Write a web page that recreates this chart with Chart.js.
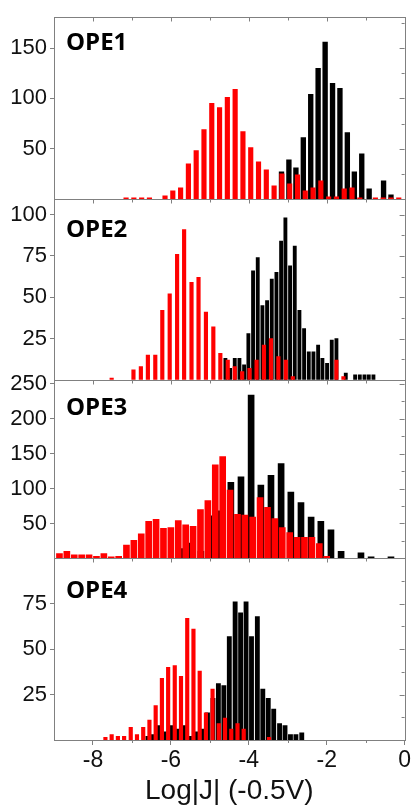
<!DOCTYPE html>
<html>
<head>
<meta charset="utf-8">
<script src="https://cdn.jsdelivr.net/npm/chart.js@4.4.1/dist/chart.umd.min.js"></script>
<style>
  html, body { margin: 0; padding: 0; background: #fff; }
</style>
</head>
<body>
<canvas id="hist" width="413" height="809"></canvas>
<script>
// bin centres (Log|J|) and counts, black and red populations per molecule
var ope1BlackX = [-3.16,-2.97,-2.79,-2.60,-2.41,-2.22,-2.04,-1.85,-1.66,-1.47,-1.29,-1.10,-0.91,-0.54,-0.35];
var ope1BlackY = [27,39,31,61,104,130,156,115,110,66,27,45,10,18,4];
var ope1RedX = [-7.15,-6.95,-6.75,-6.55,-6.15,-5.95,-5.75,-5.55,-5.35,-5.15,-4.95,-4.75,-4.55,-4.35,-4.15,-3.95,-3.75,-3.55,-3.35,-3.15,-2.95,-2.75,-2.55,-2.35,-2.15,-1.95,-1.75,-1.55,-1.35,-1.15,-0.75,-0.55,-0.35,-0.15];
var ope1RedY = [1,1,1,1,3,8,11,35,48,69,95,91,101,109,67,51,37,29,13,25,15,24,8,11,18,2,2,10,11,1,1,1,1,1];

var ope2BlackX = [-4.60,-4.48,-4.36,-4.24,-4.12,-4.01,-3.89,-3.77,-3.65,-3.53,-3.41,-3.29,-3.17,-3.06,-2.94,-2.82,-2.70,-2.58,-2.46,-2.34,-2.22,-2.11,-1.99,-1.87,-1.75,-1.51,-1.27,-1.15,-1.03,-0.92,-0.80];
var ope2BlackY = [13,7,13,13,9,28,66,74,45,48,61,65,84,98,69,81,42,31,17,17,21,13,10,24,25,4,3,3,3,3,3];
var ope2RedX = [-7.52,-6.96,-6.77,-6.59,-6.40,-6.22,-6.03,-5.84,-5.66,-5.47,-5.29,-5.10,-4.91,-4.73,-4.54,-4.36,-4.17,-3.98,-3.80,-3.61,-3.43,-3.24,-3.05,-2.87,-1.75,-1.57];
var ope2RedY = [1,6,8,15,15,42,52,76,91,59,62,41,32,16,12,8,5,7,12,21,25,14,12,2,12,2];

var ope3BlackX = [-5.74,-5.49,-5.23,-4.97,-4.72,-4.46,-4.20,-3.94,-3.69,-3.43,-3.17,-2.92,-2.66,-2.40,-2.15,-1.89,-1.63,-1.12,-0.86,-0.35];
var ope3BlackY = [14,22,10,61,68,109,117,234,105,119,136,95,80,59,53,41,10,8,2,2];
var ope3RedX = [-8.86,-8.67,-8.48,-8.29,-8.10,-7.91,-7.72,-7.53,-7.34,-7.14,-6.95,-6.76,-6.57,-6.38,-6.19,-6.00,-5.81,-5.62,-5.43,-5.24,-5.05,-4.86,-4.67,-4.48,-4.29,-4.10,-3.90,-3.71,-3.52,-3.33,-3.14,-2.95,-2.76,-2.57,-2.38,-2.19,-2.00];
var ope3RedY = [7,10,5,5,5,3,7,2,3,19,26,35,53,56,43,44,54,48,46,70,83,134,146,98,63,62,59,87,73,57,44,37,30,30,30,21,3];

var ope4BlackX = [-6.59,-6.46,-6.30,-6.14,-5.99,-5.81,-5.63,-5.49,-5.34,-5.20,-5.06,-4.92,-4.78,-4.64,-4.50,-4.35,-4.21,-4.07,-3.93,-3.78,-3.64,-3.50,-3.36,-3.21,-3.07,-2.93,-2.79,-2.64];
var ope4BlackY = [2,3,8,4.5,8,6,8,2,4.5,6,15,23,31,30,57,76,70,76,57,68,28,23,17,9,8,3,3,4];
var ope4RedX = [-7.68,-7.52,-7.36,-7.20,-7.03,-6.87,-6.71,-6.55,-6.39,-6.23,-6.07,-5.90,-5.74,-5.58,-5.42,-5.26,-5.10,-4.93,-4.77,-4.61,-4.45,-4.29,-4.13,-3.48];
var ope4RedY = [1.5,3,2,2,7,3,7,11,19,34,40,41,35,67,61,38,15,28,9,12,6,9,6,1.5];

var panelNames = ['OPE1', 'OPE2', 'OPE3', 'OPE4'];
var xTicks = [-8, -6, -4, -2, 0];
var xMinorTicks = [-7, -5, -3, -1];
var p1Ticks = [50, 100, 150];
var p2Ticks = [25, 50, 75, 100];
var p3Ticks = [50, 100, 150, 200, 250];
var p4Ticks = [25, 50, 75];

var FRAME = '#808080';
var axisIds = ['y1', 'y2', 'y3', 'y4'];
var labelDrop = [33, 38, 35, 40];

function bars(xs, ys, color, axis, width, order) {
  return {
    data: xs.map(function (x, i) { return { x: x, y: ys[i] }; }),
    backgroundColor: color,
    yAxisID: axis,
    barThickness: width,
    grouped: false,
    borderWidth: 0,
    order: order
  };
}

function panelAxis(max, ticks, weight) {
  return {
    type: 'linear',
    position: 'left',
    stack: 'panels',
    stackWeight: weight,
    min: 0,
    max: max,
    afterBuildTicks: function (ax) { ax.ticks = ticks.map(function (v) { return { value: v }; }); },
    afterFit: function (ax) { ax.width = 54; },
    grid: { drawOnChartArea: false, tickLength: 4, color: FRAME },
    border: { display: false },
    ticks: { autoSkip: false, font: { family: 'Liberation Sans', size: 22 }, color: '#111', padding: 3 }
  };
}

// frames, inward ticks on top/right, minor ticks and the panel names
var panelFrames = {
  id: 'panelFrames',
  afterDraw: function (chart) {
    var ctx = chart.ctx;
    var area = chart.chartArea;
    var x = chart.scales.x;
    ctx.save();
    ctx.strokeStyle = FRAME;
    ctx.lineWidth = 1;
    function seg(x1, y1, x2, y2) {
      ctx.beginPath(); ctx.moveTo(x1, y1); ctx.lineTo(x2, y2); ctx.stroke();
    }
    axisIds.forEach(function (id, i) {
      var s = chart.scales[id];
      var top = Math.round(s.top) + 0.5;
      var bottom = Math.round(s.bottom) + 0.5;
      ctx.strokeRect(Math.round(area.left) + 0.5, top, Math.round(area.right - area.left), bottom - top);
      var vals = s.ticks.map(function (t) { return t.value; });
      var step = vals[1] - vals[0];
      vals.forEach(function (v) {
        var py = Math.round(s.getPixelForValue(v)) + 0.5;
        seg(area.right - 5, py, area.right, py);
      });
      vals.concat([vals[vals.length - 1] + step]).forEach(function (v) {
        var m = v - step / 2;
        if (m > s.max) return;
        var py = Math.round(s.getPixelForValue(m)) + 0.5;
        seg(area.right - 3, py, area.right, py);
      });
      xTicks.concat(xMinorTicks).forEach(function (v) {
        if (v >= 0) return;
        var px = Math.round(x.getPixelForValue(v)) + 0.5;
        seg(px, top, px, top + (xTicks.indexOf(v) >= 0 ? 4 : 3));
      });
      ctx.fillStyle = '#000';
      ctx.font = 'bold 24px "Open Sans"';
      ctx.textBaseline = 'alphabetic';
      ctx.fillText(panelNames[i], area.left + 12, s.top + labelDrop[i]);
    });
    xMinorTicks.forEach(function (v) {
      var px = Math.round(x.getPixelForValue(v)) + 0.5;
      seg(px, area.bottom, px, area.bottom + 3);
    });
    ctx.restore();
  }
};

new Chart(document.getElementById('hist'), {
  type: 'bar',
  data: {
    datasets: [
      bars(ope1RedX, ope1RedY, '#ff0000', 'y1', 4.5, 0),
      bars(ope1BlackX, ope1BlackY, '#000000', 'y1', 4.7, 1),
      bars(ope2RedX, ope2RedY, '#ff0000', 'y2', 3.5, 0),
      bars(ope2BlackX, ope2BlackY, '#000000', 'y2', 3.2, 1),
      bars(ope3RedX, ope3RedY, '#ff0000', 'y3', 6, 0),
      bars(ope3BlackX, ope3BlackY, '#000000', 'y3', 6, 1),
      bars(ope4RedX, ope4RedY, '#ff0000', 'y4', 3.5, 0),
      bars(ope4BlackX, ope4BlackY, '#000000', 'y4', 4.2, 1)
    ]
  },
  options: {
    responsive: false,
    animation: false,
    layout: { padding: { top: 17, right: 7, bottom: 0, left: 0 } },
    plugins: { legend: { display: false }, tooltip: { enabled: false } },
    scales: {
      x: {
        type: 'linear',
        position: 'bottom',
        min: -9,
        max: 0,
        offset: false,
        afterBuildTicks: function (ax) { ax.ticks = xTicks.map(function (v) { return { value: v }; }); },
        afterFit: function (ax) { ax.height = 69; },
        grid: { drawOnChartArea: false, offset: false, tickLength: 5, color: FRAME },
        border: { display: false },
        ticks: { autoSkip: false, maxRotation: 0, font: { family: 'Liberation Sans', size: 23 }, color: '#111', padding: 2 },
        title: {
          display: true,
          text: 'Log|J| (-0.5V)',
          font: { family: 'Liberation Sans', size: 28 },
          color: '#111',
          padding: { top: 0, bottom: 1 }
        }
      },
      y4: panelAxis(100, p4Ticks, 181.5),
      y3: panelAxis(256, p3Ticks, 178.4),
      y2: panelAxis(109.5, p2Ticks, 180.7),
      y1: panelAxis(181, p1Ticks, 181.8)
    }
  },
  plugins: [panelFrames]
});
</script>
</body>
</html>
